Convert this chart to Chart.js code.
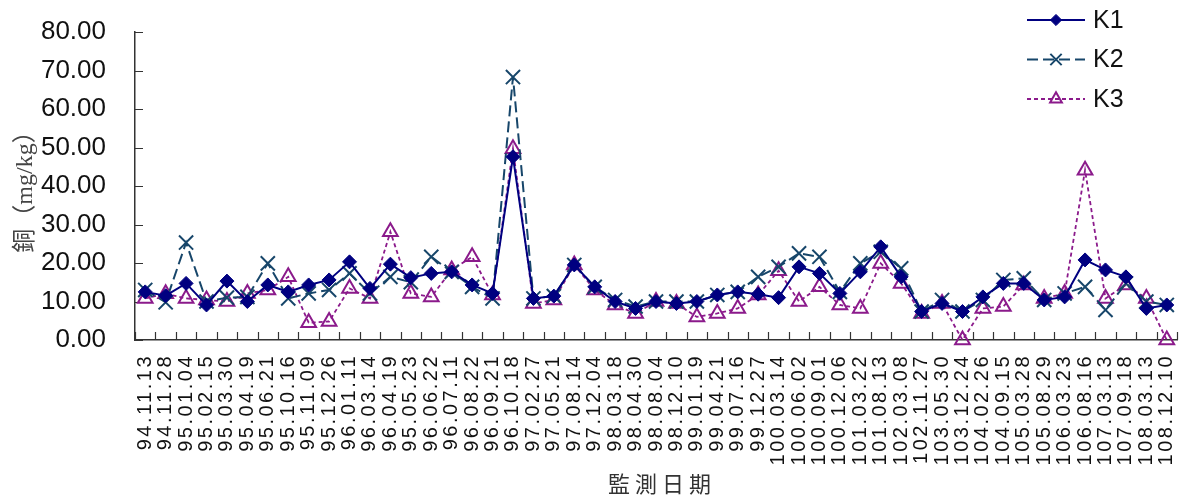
<!DOCTYPE html>
<html><head><meta charset="utf-8">
<script src="https://cdn.jsdelivr.net/npm/chart.js@4/dist/chart.umd.min.js"></script>
<style>html,body{margin:0;padding:0;background:#fff;}#wrap{width:1181px;height:499px;}</style>
</head><body><div id="wrap"><canvas id="c" width="1181" height="499"></canvas></div>
<script>
const dates = ['94.11.13','94.11.28','95.01.04','95.02.15','95.03.30','95.04.19','95.06.21','95.10.16','95.11.09','95.12.26',
 '96.01.11','96.03.14','96.04.19','95.05.23','96.06.22','96.07.11','96.08.22','96.09.21','96.10.18','97.02.27',
 '97.05.21','97.08.14','97.12.04','98.03.18','98.04.30','98.08.04','98.12.10','99.01.19','99.04.21','99.07.16',
 '99.12.27','100.03.14','100.06.02','100.09.01','100.12.06','101.03.22','101.08.13','102.03.08','102.11.27','103.05.30',
 '103.12.24','104.02.26','104.09.15','105.03.28','105.08.29','106.03.23','106.08.16','107.03.13','107.09.18','108.03.13','108.12.10'];
const k1 = [12.5,11.5,14.7,9.1,15.3,10.0,14.3,12.5,14.3,15.6,20.3,13.4,19.7,16.2,17.3,17.7,14.3,12.1,47.6,10.8,
 11.4,19.5,13.8,10.0,8.2,10.0,9.5,10.0,11.7,12.5,11.9,11.0,19.0,17.3,12.1,17.7,24.2,16.4,7.4,9.5,
 7.4,11.2,14.7,14.7,10.4,11.2,20.8,18.2,16.4,8.2,9.1];
const k2 = [13.0,9.8,25.3,10.0,11.0,11.2,19.9,10.8,12.1,13.0,17.3,12.1,16.4,15.0,21.6,17.7,13.8,10.8,68.3,10.8,
 11.4,19.5,13.8,10.4,8.7,10.0,10.0,10.0,11.7,12.5,16.4,19.0,22.5,21.6,12.5,19.9,22.9,18.6,7.4,10.4,
 7.4,10.4,15.6,16.0,10.4,12.1,13.8,7.8,14.7,10.0,9.1];
const k3 = [10.8,12.0,10.8,10.4,10.0,12.1,13.0,16.4,4.5,4.8,13.4,10.8,28.1,12.1,11.2,18.2,21.6,11.7,49.7,9.5,
 10.4,19.5,13.0,9.1,6.9,10.0,9.5,6.0,6.9,8.2,11.7,18.0,10.0,13.8,9.1,8.2,19.9,14.7,6.9,9.5,
 0.0,8.2,8.7,14.3,10.8,12.1,44.1,10.8,14.3,10.8,0.0];
const seriesNames = ['K1','K2','K3'];
const yMin = 0, yMax = 80, yStep = 10;

const C1 = '#000080', C2 = '#17466a', C3 = '#8b1a8b';

const spacingPlugin = {
  id: 'spacing',
  beforeDraw(chart) {
    const xs = chart.scales.x;
    if (!xs._wrapped) {
      const dl = xs.drawLabels;
      xs.drawLabels = function (a) { const c = this.ctx; c.save(); c.letterSpacing = '2.5px'; dl.call(this, a); c.restore(); };
      const dt = xs.drawTitle;
      xs.drawTitle = function () { const c = this.ctx; c.save(); c.letterSpacing = '5px'; c.translate(6, 0); dt.call(this); c.restore(); };
      xs._wrapped = true;
    }
  }
};

const ticksPlugin = {
  id: 'inticks',
  beforeDatasetsDraw(chart) {
    const { ctx, scales: { x, y }, chartArea: a } = chart;
    ctx.save();
    ctx.strokeStyle = '#333'; ctx.lineWidth = 1.2;
    ctx.beginPath();
    y.ticks.forEach(t => { const py = Math.round(y.getPixelForValue(t.value)) + 0.5; ctx.moveTo(a.left, py); ctx.lineTo(a.left + 8, py); });
    for (let i = 0; i <= x.ticks.length; i++) {
      const px = Math.round(x.getPixelForValue(i - 0.5)) + 0.5;
      ctx.moveTo(px, a.bottom); ctx.lineTo(px, a.bottom - 8);
    }
    ctx.stroke();
    ctx.restore();
  }
};

const legendPlugin = {
  id: 'lineLegend',
  afterDraw(chart) {
    const ctx = chart.ctx;
    chart.data.datasets.forEach((ds, k) => {
      const yy = 20 + 39.5 * k;
      ctx.save();
      ctx.strokeStyle = ds.borderColor; ctx.lineWidth = ds.borderWidth;
      ctx.setLineDash(ds.borderDash || []);
      ctx.beginPath(); ctx.moveTo(1027, yy); ctx.lineTo(1085, yy); ctx.stroke();
      ctx.setLineDash([]);
      ctx.fillStyle = ds.pointBackgroundColor; ctx.strokeStyle = ds.pointBorderColor;
      ctx.lineWidth = ds.pointBorderWidth;
      Chart.helpers.drawPoint(ctx, { pointStyle: ds.pointStyle, radius: ds.pointRadius * 0.8, borderWidth: ds.pointBorderWidth, rotation: 0 }, 1056, yy);
      ctx.fillStyle = '#111'; ctx.font = '25px "Liberation Sans"';
      ctx.textBaseline = 'middle'; ctx.textAlign = 'left';
      ctx.fillText(ds.label, 1093, yy + 1);
      ctx.restore();
    });
  }
};

new Chart(document.getElementById('c'), {
  type: 'line',
  data: {
    labels: dates,
    datasets: [
      { label: seriesNames[0], data: k1, borderColor: C1, borderWidth: 2, pointStyle: 'rectRot', pointRadius: 7,
        pointBackgroundColor: C1, pointBorderColor: C1, pointBorderWidth: 1, tension: 0, clip: false },
      { label: seriesNames[1], data: k2, borderColor: C2, borderWidth: 2, borderDash: [11, 5], pointStyle: 'crossRot', pointRadius: 10,
        pointBackgroundColor: C2, pointBorderColor: C2, pointBorderWidth: 2, tension: 0, clip: false },
      { label: seriesNames[2], data: k3, borderColor: C3, borderWidth: 1.8, borderDash: [4, 3], pointStyle: 'triangle', pointRadius: 8.5,
        pointBackgroundColor: 'rgba(255,255,255,0)', pointBorderColor: C3, pointBorderWidth: 2, tension: 0, clip: false }
    ]
  },
  options: {
    responsive: false, animation: false, devicePixelRatio: 1,
    layout: { autoPadding: false, padding: { top: 32, right: 4, bottom: 0, left: 0 } },
    plugins: { legend: { display: false }, tooltip: { enabled: false } },
    scales: {
      x: {
        type: 'category', offset: true,
        grid: { display: false },
        border: { display: true, color: '#333', width: 1.5 },
        ticks: { autoSkip: false, minRotation: 90, maxRotation: 90, padding: 6, color: '#111',
          font: { family: '"Liberation Sans"', size: 20 } },
        title: { display: true, text: '監測日期', color: '#333', font: { family: '"Noto Sans CJK TC"', size: 22 }, padding: { top: 0, bottom: 2 } },
        afterFit(s) { s.height = 499 - 340; s.paddingLeft = 0; s.paddingRight = 0; s.paddingTop = 0; s.paddingBottom = 0; }
      },
      y: {
        min: yMin, max: yMax,
        grid: { display: false },
        border: { display: true, color: '#333', width: 1.5 },
        ticks: { stepSize: yStep, padding: 21, color: '#111', font: { family: '"Liberation Sans"', size: 26 },
          callback: v => Number(v).toFixed(2) },
        title: { display: true, text: '銅（mg/kg）', color: '#444', font: { family: '"Liberation Serif", "Noto Sans CJK TC"', size: 24 }, padding: { top: 11, bottom: 0 } },
        afterFit(s) { s.width = 135; s.paddingTop = 0; s.paddingBottom = 0; s.paddingLeft = 0; s.paddingRight = 0; }
      }
    }
  },
  plugins: [spacingPlugin, ticksPlugin, legendPlugin]
});
</script></body></html>
